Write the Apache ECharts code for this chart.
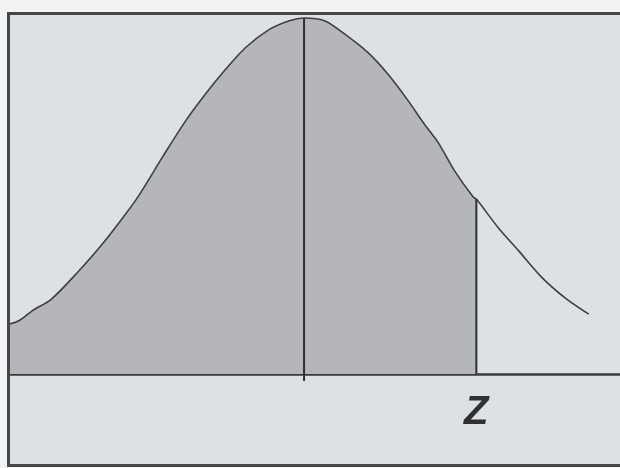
<!DOCTYPE html>
<html>
<head>
<meta charset="utf-8">
<script src="https://cdn.jsdelivr.net/npm/echarts@6/dist/echarts.min.js"></script>
<style>
  html, body { margin: 0; padding: 0; background: #f1f3f5; }
  #chart { width: 620px; height: 468px; }
</style>
</head>
<body>
<div id="chart"></div>
<script>
// curve: z position and height of the bell curve
const curveZ = [-2.02, -1.95, -1.86, -1.73, -1.54, -1.38, -1.27, -1.14, -0.97, -0.81, -0.67, -0.54, -0.40, -0.24, -0.10, 0,
  0.14, 0.27, 0.44, 0.57, 0.71, 0.82, 0.92, 1.03, 1.16, 1.18, 1.33, 1.47, 1.63, 1.79, 1.95];
const curveY = [0.056, 0.060, 0.071, 0.084, 0.116, 0.146, 0.169, 0.198, 0.243, 0.284, 0.315, 0.341, 0.366, 0.386, 0.396, 0.399,
  0.396, 0.382, 0.360, 0.337, 0.307, 0.281, 0.259, 0.228, 0.198, 0.196, 0.164, 0.138, 0.108, 0.085, 0.067];
const meanZ = 0;
const zValue = 1.18;
const zLabel = ['Z'];

const curve = curveZ.map((z, i) => [z, curveY[i]]);
const shaded = curve.filter(p => p[0] <= zValue);
const zHeight = curveY[curveZ.indexOf(zValue)];
const peak = Math.max(...curveY);

const chart = echarts.init(document.getElementById('chart'));

const option = {
  backgroundColor: '#f1f3f5',
  animation: false,
  grid: { left: 10, right: 0, top: 15, bottom: 87 },
  xAxis: {
    type: 'value',
    min: -2.014,
    max: 2.164,
    splitLine: { show: false },
    axisTick: { show: false },
    axisLine: { onZero: true, lineStyle: { color: '#3a3a3a', width: 2.5 } },
    axisLabel: {
      customValues: [zValue],
      formatter: () => zLabel[0],
      fontFamily: 'Liberation Sans',
      fontSize: 40,
      fontWeight: 'bold',
      fontStyle: 'italic',
      color: '#303030',
      margin: 12
    }
  },
  yAxis: {
    type: 'value',
    min: -0.0079,
    max: 0.4024,
    show: false
  },
  graphic: [
    {
      type: 'rect',
      z: -10,
      shape: { x: 8.5, y: 13.5, width: 620, height: 452 },
      style: { fill: '#dde0e4', stroke: null }
    },
    {
      type: 'rect',
      z: 100,
      shape: { x: 8.5, y: 13.5, width: 620, height: 452 },
      style: { fill: null, stroke: '#474747', lineWidth: 3 }
    }
  ],
  series: [
    {
      name: 'area',
      type: 'line',
      data: shaded,
      showSymbol: false,
      smooth: 0.3,
      lineStyle: { width: 0 },
      areaStyle: { color: '#b4b6b9', opacity: 1 },
      z: 1
    },
    {
      name: 'curve',
      type: 'line',
      data: curve,
      showSymbol: false,
      smooth: 0.3,
      lineStyle: { color: '#3f3f3f', width: 1.6 },
      z: 3
    },
    {
      name: 'mean',
      type: 'line',
      data: [[meanZ, -0.0079], [meanZ, peak]],
      showSymbol: false,
      lineStyle: { color: '#2f2f2f', width: 2 },
      z: 4
    },
    {
      name: 'z',
      type: 'line',
      data: [[zValue, 0], [zValue, zHeight]],
      showSymbol: false,
      lineStyle: { color: '#2f2f2f', width: 2 },
      z: 4
    }
  ]
};

chart.setOption(option);
window.addEventListener('resize', () => chart.resize());
</script>
</body>
</html>
